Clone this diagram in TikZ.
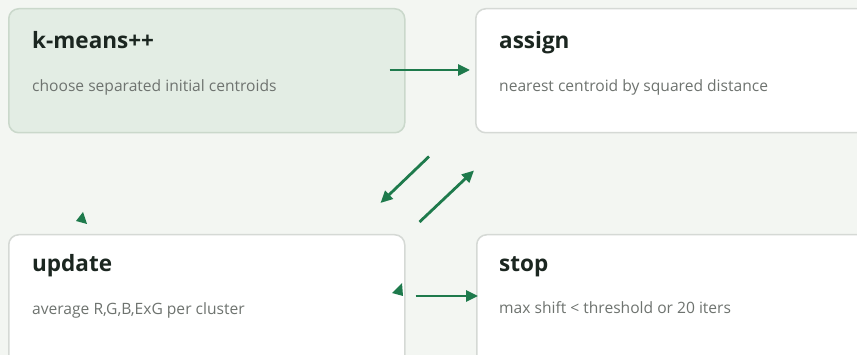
\documentclass[tikz,border=0pt]{standalone}
\usepackage{fontspec}
\setmainfont{Open Sans}
\usetikzlibrary{arrows.meta,calc}
\definecolor{pagebg}{HTML}{F3F6F2}
\definecolor{softfill}{HTML}{E3EDE4}
\definecolor{softline}{HTML}{CAD8CB}
\definecolor{plainline}{HTML}{D5D9D5}
\definecolor{flow}{HTML}{1E7A4C}
\definecolor{headink}{HTML}{1B2620}
\definecolor{noteink}{HTML}{6E736F}
\tikzset{
  card/.style={draw=plainline, fill=white, line width=1.5pt, rounded corners=10pt,
    anchor=north west, minimum width=420pt, minimum height=124pt, inner sep=0pt},
  softcard/.style={card, fill=softfill, draw=softline, minimum width=396pt},
  head/.style={anchor=base west, inner sep=0pt, text=headink, font=\fontsize{22.5}{26}\selectfont\bfseries},
  note/.style={anchor=base west, inner sep=0pt, text=noteink, font=\fontsize{15.6}{18}\selectfont},
  flowarrow/.style={draw=flow, line width=2.8pt, -{Triangle[length=12pt,width=11pt]}},
}
\begin{document}
\begin{tikzpicture}[x=1pt,y=-1pt]
\useasboundingbox (0,0) rectangle (857,355);
\fill[pagebg] (0,0) rectangle (857,355);

% the four stages
\node[softcard] (kmeans) at (8,8) {};
\node[card] (assign) at (475,8) {};
\node[card, minimum width=396pt, minimum height=140pt] (update) at (8,234) {};
\node[card, minimum height=140pt] (stop) at (476,234) {};

% titles and descriptions
\node[head] (kmeansT) at (32,49) {k-means++};
\node[note] (kmeansD) at (32,92) {choose separated initial centroids};
\node[head] (assignT) at (499,49) {assign};
\node[note] (assignD) at (499,92) {nearest centroid by squared distance};
\node[head] (updateT) at (32,272) {update};
\node[note] (updateD) at (32,315) {average R,G,B,ExG per cluster};
\node[head] (stopT) at (499,272) {stop};
\node[note] (stopD) at (499,314) {max shift < threshold or 20 iters};

% connectors
\draw[flowarrow] ($(kmeans.north east)+(-16,62)$) -- ($(assign.north west)+(-5,62)$);
\draw[flowarrow] ($(assign.south west)+(-46,23)$) -- ($(update.north east)+(-25,-31)$);
\draw[flowarrow] ($(update.north east)+(14,-12)$) -- ($(assign.south west)+(-1,37)$);
\draw[flowarrow] ($(update.north east)+(10,62)$) -- ($(stop.north west)+(2,62)$);

% loose arrow tips
\fill[flow] (83,212) -- (76,221) -- (87,224) -- cycle;
\fill[flow] (402,283) -- (392,293) -- (403,296) -- cycle;
\end{tikzpicture}
\end{document}
